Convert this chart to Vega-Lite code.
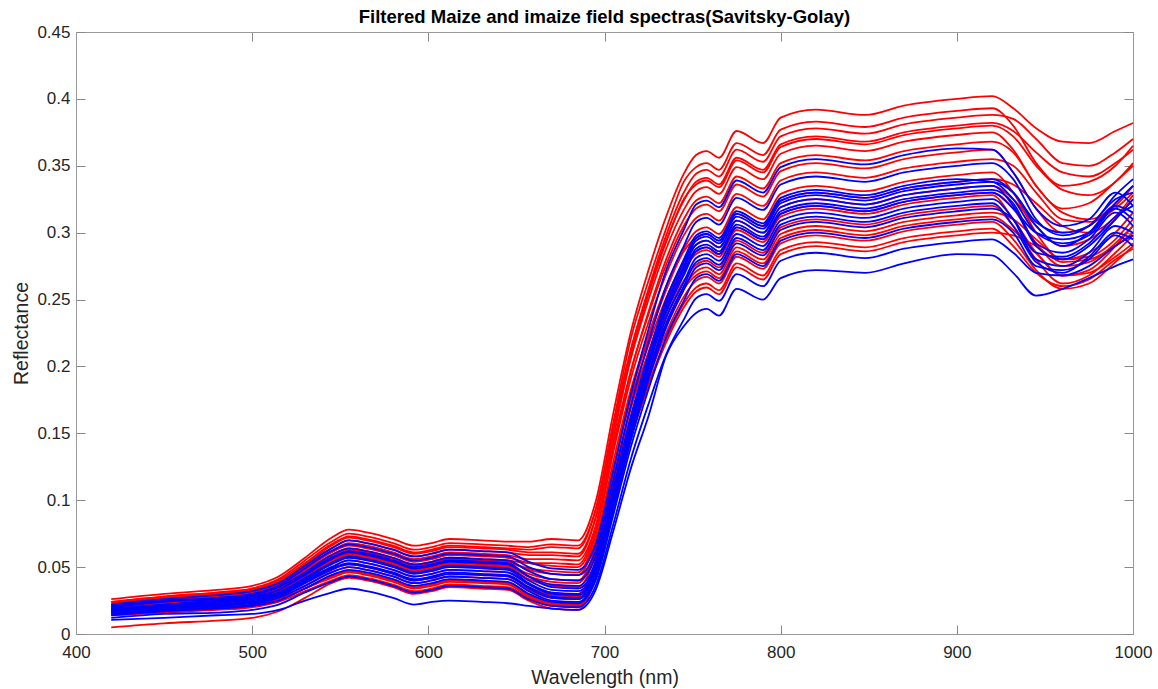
{
"$schema":"https://vega.github.io/schema/vega-lite/v6.json",
"width":1057,"height":602,
"autosize":{"type":"none"},
"padding":{"left":76,"top":32,"right":25,"bottom":55},
"background":"white",
"title":{"text":"Filtered Maize and imaize field spectras(Savitsky-Golay)","font":"Liberation Sans","fontSize":18.5,"fontWeight":"bold","color":"#000000","anchor":"middle","offset":-3},
"config":{"view":{"stroke":null},"axis":{"grid":false,"labelFlush":false,"domainColor":"#999999","tickColor":"#888888","tickSize":-9,"labelColor":"#262626","labelFont":"Liberation Sans","labelFontSize":17,"titleFont":"Liberation Sans","titleFontSize":19.5,"titleFontWeight":"normal","titleColor":"#262626"}},
"datasets":{
"red":[
{"s":"r1","w":420,"v":0.026},{"s":"r1","w":450,"v":0.030},{"s":"r1","w":480,"v":0.033},{"s":"r1","w":500,"v":0.036},{"s":"r1","w":515,"v":0.043},{"s":"r1","w":530,"v":0.057},{"s":"r1","w":545,"v":0.072},{"s":"r1","w":555,"v":0.078},{"s":"r1","w":565,"v":0.076},{"s":"r1","w":580,"v":0.071},{"s":"r1","w":592,"v":0.066},{"s":"r1","w":602,"v":0.068},{"s":"r1","w":612,"v":0.071},{"s":"r1","w":630,"v":0.070},{"s":"r1","w":645,"v":0.069},{"s":"r1","w":657,"v":0.069},{"s":"r1","w":670,"v":0.071},{"s":"r1","w":685,"v":0.070},{"s":"r1","w":695,"v":0.099},{"s":"r1","w":705,"v":0.165},{"s":"r1","w":715,"v":0.226},{"s":"r1","w":725,"v":0.272},{"s":"r1","w":735,"v":0.312},{"s":"r1","w":745,"v":0.344},{"s":"r1","w":752,"v":0.358},{"s":"r1","w":758,"v":0.361},{"s":"r1","w":765,"v":0.356},{"s":"r1","w":775,"v":0.376},{"s":"r1","w":790,"v":0.367},{"s":"r1","w":800,"v":0.386},{"s":"r1","w":820,"v":0.392},{"s":"r1","w":848,"v":0.388},{"s":"r1","w":870,"v":0.395},{"s":"r1","w":900,"v":0.400},{"s":"r1","w":920,"v":0.402},{"s":"r1","w":932,"v":0.393},{"s":"r1","w":945,"v":0.378},{"s":"r1","w":960,"v":0.368},{"s":"r1","w":975,"v":0.367},{"s":"r1","w":990,"v":0.376},{"s":"r1","w":1000,"v":0.382},
{"s":"r2","w":420,"v":0.024},{"s":"r2","w":450,"v":0.028},{"s":"r2","w":480,"v":0.031},{"s":"r2","w":500,"v":0.034},{"s":"r2","w":515,"v":0.041},{"s":"r2","w":530,"v":0.055},{"s":"r2","w":545,"v":0.069},{"s":"r2","w":555,"v":0.075},{"s":"r2","w":565,"v":0.073},{"s":"r2","w":580,"v":0.068},{"s":"r2","w":592,"v":0.063},{"s":"r2","w":602,"v":0.065},{"s":"r2","w":612,"v":0.068},{"s":"r2","w":630,"v":0.067},{"s":"r2","w":645,"v":0.066},{"s":"r2","w":657,"v":0.065},{"s":"r2","w":670,"v":0.067},{"s":"r2","w":685,"v":0.066},{"s":"r2","w":695,"v":0.093},{"s":"r2","w":705,"v":0.156},{"s":"r2","w":715,"v":0.213},{"s":"r2","w":725,"v":0.256},{"s":"r2","w":735,"v":0.294},{"s":"r2","w":745,"v":0.324},{"s":"r2","w":752,"v":0.338},{"s":"r2","w":758,"v":0.341},{"s":"r2","w":765,"v":0.336},{"s":"r2","w":775,"v":0.356},{"s":"r2","w":790,"v":0.347},{"s":"r2","w":800,"v":0.366},{"s":"r2","w":820,"v":0.372},{"s":"r2","w":848,"v":0.368},{"s":"r2","w":870,"v":0.375},{"s":"r2","w":900,"v":0.380},{"s":"r2","w":920,"v":0.382},{"s":"r2","w":932,"v":0.376},{"s":"r2","w":945,"v":0.360},{"s":"r2","w":960,"v":0.345},{"s":"r2","w":975,"v":0.342},{"s":"r2","w":990,"v":0.352},{"s":"r2","w":1000,"v":0.362},
{"s":"r16","w":420,"v":0.024},{"s":"r16","w":450,"v":0.028},{"s":"r16","w":480,"v":0.031},{"s":"r16","w":500,"v":0.034},{"s":"r16","w":515,"v":0.040},{"s":"r16","w":530,"v":0.053},{"s":"r16","w":545,"v":0.067},{"s":"r16","w":555,"v":0.073},{"s":"r16","w":565,"v":0.071},{"s":"r16","w":580,"v":0.066},{"s":"r16","w":592,"v":0.061},{"s":"r16","w":602,"v":0.063},{"s":"r16","w":612,"v":0.066},{"s":"r16","w":630,"v":0.065},{"s":"r16","w":645,"v":0.064},{"s":"r16","w":657,"v":0.063},{"s":"r16","w":670,"v":0.065},{"s":"r16","w":685,"v":0.064},{"s":"r16","w":695,"v":0.093},{"s":"r16","w":705,"v":0.158},{"s":"r16","w":715,"v":0.221},{"s":"r16","w":725,"v":0.264},{"s":"r16","w":735,"v":0.303},{"s":"r16","w":745,"v":0.338},{"s":"r16","w":752,"v":0.349},{"s":"r16","w":758,"v":0.352},{"s":"r16","w":765,"v":0.347},{"s":"r16","w":775,"v":0.367},{"s":"r16","w":790,"v":0.358},{"s":"r16","w":800,"v":0.377},{"s":"r16","w":820,"v":0.383},{"s":"r16","w":848,"v":0.379},{"s":"r16","w":870,"v":0.386},{"s":"r16","w":900,"v":0.391},{"s":"r16","w":920,"v":0.393},{"s":"r16","w":932,"v":0.380},{"s":"r16","w":945,"v":0.352},{"s":"r16","w":960,"v":0.335},{"s":"r16","w":975,"v":0.338},{"s":"r16","w":990,"v":0.350},{"s":"r16","w":1000,"v":0.365},
{"s":"r14","w":420,"v":0.022},{"s":"r14","w":450,"v":0.026},{"s":"r14","w":480,"v":0.029},{"s":"r14","w":500,"v":0.032},{"s":"r14","w":515,"v":0.038},{"s":"r14","w":530,"v":0.051},{"s":"r14","w":545,"v":0.064},{"s":"r14","w":555,"v":0.070},{"s":"r14","w":565,"v":0.068},{"s":"r14","w":580,"v":0.063},{"s":"r14","w":592,"v":0.058},{"s":"r14","w":602,"v":0.060},{"s":"r14","w":612,"v":0.063},{"s":"r14","w":630,"v":0.062},{"s":"r14","w":645,"v":0.061},{"s":"r14","w":657,"v":0.059},{"s":"r14","w":670,"v":0.059},{"s":"r14","w":685,"v":0.058},{"s":"r14","w":695,"v":0.087},{"s":"r14","w":705,"v":0.152},{"s":"r14","w":715,"v":0.212},{"s":"r14","w":725,"v":0.258},{"s":"r14","w":735,"v":0.298},{"s":"r14","w":745,"v":0.330},{"s":"r14","w":752,"v":0.344},{"s":"r14","w":758,"v":0.347},{"s":"r14","w":765,"v":0.342},{"s":"r14","w":775,"v":0.362},{"s":"r14","w":790,"v":0.353},{"s":"r14","w":800,"v":0.372},{"s":"r14","w":820,"v":0.378},{"s":"r14","w":848,"v":0.374},{"s":"r14","w":870,"v":0.381},{"s":"r14","w":900,"v":0.386},{"s":"r14","w":920,"v":0.388},{"s":"r14","w":932,"v":0.385},{"s":"r14","w":945,"v":0.370},{"s":"r14","w":960,"v":0.352},{"s":"r14","w":975,"v":0.350},{"s":"r14","w":990,"v":0.360},{"s":"r14","w":1000,"v":0.370},
{"s":"r17","w":420,"v":0.021},{"s":"r17","w":450,"v":0.024},{"s":"r17","w":480,"v":0.027},{"s":"r17","w":500,"v":0.030},{"s":"r17","w":515,"v":0.035},{"s":"r17","w":530,"v":0.047},{"s":"r17","w":545,"v":0.059},{"s":"r17","w":555,"v":0.064},{"s":"r17","w":565,"v":0.062},{"s":"r17","w":580,"v":0.057},{"s":"r17","w":592,"v":0.052},{"s":"r17","w":602,"v":0.054},{"s":"r17","w":612,"v":0.057},{"s":"r17","w":630,"v":0.056},{"s":"r17","w":645,"v":0.055},{"s":"r17","w":657,"v":0.053},{"s":"r17","w":670,"v":0.053},{"s":"r17","w":685,"v":0.052},{"s":"r17","w":695,"v":0.080},{"s":"r17","w":705,"v":0.146},{"s":"r17","w":715,"v":0.208},{"s":"r17","w":725,"v":0.254},{"s":"r17","w":735,"v":0.293},{"s":"r17","w":745,"v":0.325},{"s":"r17","w":752,"v":0.336},{"s":"r17","w":758,"v":0.339},{"s":"r17","w":765,"v":0.334},{"s":"r17","w":775,"v":0.354},{"s":"r17","w":790,"v":0.345},{"s":"r17","w":800,"v":0.364},{"s":"r17","w":820,"v":0.370},{"s":"r17","w":848,"v":0.366},{"s":"r17","w":870,"v":0.373},{"s":"r17","w":900,"v":0.378},{"s":"r17","w":920,"v":0.380},{"s":"r17","w":932,"v":0.372},{"s":"r17","w":945,"v":0.350},{"s":"r17","w":960,"v":0.332},{"s":"r17","w":975,"v":0.328},{"s":"r17","w":990,"v":0.338},{"s":"r17","w":1000,"v":0.352},
{"s":"r3","w":420,"v":0.023},{"s":"r3","w":450,"v":0.027},{"s":"r3","w":480,"v":0.030},{"s":"r3","w":500,"v":0.033},{"s":"r3","w":515,"v":0.039},{"s":"r3","w":530,"v":0.052},{"s":"r3","w":545,"v":0.066},{"s":"r3","w":555,"v":0.072},{"s":"r3","w":565,"v":0.070},{"s":"r3","w":580,"v":0.065},{"s":"r3","w":592,"v":0.060},{"s":"r3","w":602,"v":0.062},{"s":"r3","w":612,"v":0.065},{"s":"r3","w":630,"v":0.064},{"s":"r3","w":645,"v":0.063},{"s":"r3","w":657,"v":0.061},{"s":"r3","w":670,"v":0.061},{"s":"r3","w":685,"v":0.060},{"s":"r3","w":695,"v":0.087},{"s":"r3","w":705,"v":0.149},{"s":"r3","w":715,"v":0.206},{"s":"r3","w":725,"v":0.250},{"s":"r3","w":735,"v":0.288},{"s":"r3","w":745,"v":0.317},{"s":"r3","w":752,"v":0.331},{"s":"r3","w":758,"v":0.334},{"s":"r3","w":765,"v":0.329},{"s":"r3","w":775,"v":0.349},{"s":"r3","w":790,"v":0.340},{"s":"r3","w":800,"v":0.359},{"s":"r3","w":820,"v":0.365},{"s":"r3","w":848,"v":0.361},{"s":"r3","w":870,"v":0.368},{"s":"r3","w":900,"v":0.373},{"s":"r3","w":920,"v":0.375},{"s":"r3","w":932,"v":0.362},{"s":"r3","w":945,"v":0.335},{"s":"r3","w":960,"v":0.318},{"s":"r3","w":975,"v":0.322},{"s":"r3","w":990,"v":0.338},{"s":"r3","w":1000,"v":0.350},
{"s":"r15","w":420,"v":0.020},{"s":"r15","w":450,"v":0.023},{"s":"r15","w":480,"v":0.026},{"s":"r15","w":500,"v":0.028},{"s":"r15","w":515,"v":0.034},{"s":"r15","w":530,"v":0.045},{"s":"r15","w":545,"v":0.057},{"s":"r15","w":555,"v":0.062},{"s":"r15","w":565,"v":0.060},{"s":"r15","w":580,"v":0.055},{"s":"r15","w":592,"v":0.050},{"s":"r15","w":602,"v":0.052},{"s":"r15","w":612,"v":0.055},{"s":"r15","w":630,"v":0.054},{"s":"r15","w":645,"v":0.053},{"s":"r15","w":657,"v":0.049},{"s":"r15","w":670,"v":0.047},{"s":"r15","w":685,"v":0.046},{"s":"r15","w":695,"v":0.074},{"s":"r15","w":705,"v":0.138},{"s":"r15","w":715,"v":0.196},{"s":"r15","w":725,"v":0.241},{"s":"r15","w":735,"v":0.280},{"s":"r15","w":745,"v":0.310},{"s":"r15","w":752,"v":0.324},{"s":"r15","w":758,"v":0.327},{"s":"r15","w":765,"v":0.322},{"s":"r15","w":775,"v":0.342},{"s":"r15","w":790,"v":0.333},{"s":"r15","w":800,"v":0.352},{"s":"r15","w":820,"v":0.358},{"s":"r15","w":848,"v":0.354},{"s":"r15","w":870,"v":0.361},{"s":"r15","w":900,"v":0.366},{"s":"r15","w":920,"v":0.368},{"s":"r15","w":932,"v":0.360},{"s":"r15","w":945,"v":0.335},{"s":"r15","w":960,"v":0.315},{"s":"r15","w":975,"v":0.310},{"s":"r15","w":990,"v":0.320},{"s":"r15","w":1000,"v":0.335},
{"s":"r4","w":420,"v":0.022},{"s":"r4","w":450,"v":0.026},{"s":"r4","w":480,"v":0.028},{"s":"r4","w":500,"v":0.031},{"s":"r4","w":515,"v":0.037},{"s":"r4","w":530,"v":0.050},{"s":"r4","w":545,"v":0.062},{"s":"r4","w":555,"v":0.068},{"s":"r4","w":565,"v":0.066},{"s":"r4","w":580,"v":0.061},{"s":"r4","w":592,"v":0.056},{"s":"r4","w":602,"v":0.058},{"s":"r4","w":612,"v":0.061},{"s":"r4","w":630,"v":0.060},{"s":"r4","w":645,"v":0.059},{"s":"r4","w":657,"v":0.056},{"s":"r4","w":670,"v":0.056},{"s":"r4","w":685,"v":0.055},{"s":"r4","w":695,"v":0.081},{"s":"r4","w":705,"v":0.142},{"s":"r4","w":715,"v":0.197},{"s":"r4","w":725,"v":0.239},{"s":"r4","w":735,"v":0.276},{"s":"r4","w":745,"v":0.305},{"s":"r4","w":752,"v":0.318},{"s":"r4","w":758,"v":0.321},{"s":"r4","w":765,"v":0.316},{"s":"r4","w":775,"v":0.336},{"s":"r4","w":790,"v":0.327},{"s":"r4","w":800,"v":0.346},{"s":"r4","w":820,"v":0.352},{"s":"r4","w":848,"v":0.348},{"s":"r4","w":870,"v":0.355},{"s":"r4","w":900,"v":0.360},{"s":"r4","w":920,"v":0.362},{"s":"r4","w":932,"v":0.345},{"s":"r4","w":945,"v":0.318},{"s":"r4","w":960,"v":0.300},{"s":"r4","w":975,"v":0.305},{"s":"r4","w":990,"v":0.322},{"s":"r4","w":1000,"v":0.335},
{"s":"r5","w":420,"v":0.021},{"s":"r5","w":450,"v":0.025},{"s":"r5","w":480,"v":0.027},{"s":"r5","w":500,"v":0.030},{"s":"r5","w":515,"v":0.036},{"s":"r5","w":530,"v":0.048},{"s":"r5","w":545,"v":0.061},{"s":"r5","w":555,"v":0.066},{"s":"r5","w":565,"v":0.064},{"s":"r5","w":580,"v":0.059},{"s":"r5","w":592,"v":0.054},{"s":"r5","w":602,"v":0.056},{"s":"r5","w":612,"v":0.059},{"s":"r5","w":630,"v":0.058},{"s":"r5","w":645,"v":0.057},{"s":"r5","w":657,"v":0.053},{"s":"r5","w":670,"v":0.051},{"s":"r5","w":685,"v":0.050},{"s":"r5","w":695,"v":0.076},{"s":"r5","w":705,"v":0.136},{"s":"r5","w":715,"v":0.191},{"s":"r5","w":725,"v":0.233},{"s":"r5","w":735,"v":0.269},{"s":"r5","w":745,"v":0.298},{"s":"r5","w":752,"v":0.311},{"s":"r5","w":758,"v":0.314},{"s":"r5","w":765,"v":0.309},{"s":"r5","w":775,"v":0.329},{"s":"r5","w":790,"v":0.320},{"s":"r5","w":800,"v":0.339},{"s":"r5","w":820,"v":0.345},{"s":"r5","w":848,"v":0.341},{"s":"r5","w":870,"v":0.348},{"s":"r5","w":900,"v":0.353},{"s":"r5","w":920,"v":0.355},{"s":"r5","w":932,"v":0.350},{"s":"r5","w":945,"v":0.330},{"s":"r5","w":960,"v":0.310},{"s":"r5","w":975,"v":0.308},{"s":"r5","w":990,"v":0.318},{"s":"r5","w":1000,"v":0.330},
{"s":"r6","w":420,"v":0.020},{"s":"r6","w":450,"v":0.023},{"s":"r6","w":480,"v":0.026},{"s":"r6","w":500,"v":0.029},{"s":"r6","w":515,"v":0.034},{"s":"r6","w":530,"v":0.046},{"s":"r6","w":545,"v":0.058},{"s":"r6","w":555,"v":0.063},{"s":"r6","w":565,"v":0.061},{"s":"r6","w":580,"v":0.056},{"s":"r6","w":592,"v":0.051},{"s":"r6","w":602,"v":0.053},{"s":"r6","w":612,"v":0.056},{"s":"r6","w":630,"v":0.055},{"s":"r6","w":645,"v":0.054},{"s":"r6","w":657,"v":0.048},{"s":"r6","w":670,"v":0.045},{"s":"r6","w":685,"v":0.044},{"s":"r6","w":695,"v":0.070},{"s":"r6","w":705,"v":0.129},{"s":"r6","w":715,"v":0.183},{"s":"r6","w":725,"v":0.224},{"s":"r6","w":735,"v":0.260},{"s":"r6","w":745,"v":0.288},{"s":"r6","w":752,"v":0.301},{"s":"r6","w":758,"v":0.304},{"s":"r6","w":765,"v":0.299},{"s":"r6","w":775,"v":0.319},{"s":"r6","w":790,"v":0.310},{"s":"r6","w":800,"v":0.329},{"s":"r6","w":820,"v":0.335},{"s":"r6","w":848,"v":0.331},{"s":"r6","w":870,"v":0.338},{"s":"r6","w":900,"v":0.343},{"s":"r6","w":920,"v":0.345},{"s":"r6","w":932,"v":0.330},{"s":"r6","w":945,"v":0.300},{"s":"r6","w":960,"v":0.280},{"s":"r6","w":975,"v":0.285},{"s":"r6","w":990,"v":0.300},{"s":"r6","w":1000,"v":0.315},
{"s":"r18","w":420,"v":0.019},{"s":"r18","w":450,"v":0.022},{"s":"r18","w":480,"v":0.025},{"s":"r18","w":500,"v":0.027},{"s":"r18","w":515,"v":0.032},{"s":"r18","w":530,"v":0.043},{"s":"r18","w":545,"v":0.054},{"s":"r18","w":555,"v":0.059},{"s":"r18","w":565,"v":0.057},{"s":"r18","w":580,"v":0.052},{"s":"r18","w":592,"v":0.047},{"s":"r18","w":602,"v":0.049},{"s":"r18","w":612,"v":0.052},{"s":"r18","w":630,"v":0.051},{"s":"r18","w":645,"v":0.050},{"s":"r18","w":657,"v":0.043},{"s":"r18","w":670,"v":0.039},{"s":"r18","w":685,"v":0.038},{"s":"r18","w":695,"v":0.064},{"s":"r18","w":705,"v":0.123},{"s":"r18","w":715,"v":0.180},{"s":"r18","w":725,"v":0.221},{"s":"r18","w":735,"v":0.257},{"s":"r18","w":745,"v":0.286},{"s":"r18","w":752,"v":0.296},{"s":"r18","w":758,"v":0.299},{"s":"r18","w":765,"v":0.294},{"s":"r18","w":775,"v":0.314},{"s":"r18","w":790,"v":0.305},{"s":"r18","w":800,"v":0.324},{"s":"r18","w":820,"v":0.330},{"s":"r18","w":848,"v":0.326},{"s":"r18","w":870,"v":0.333},{"s":"r18","w":900,"v":0.338},{"s":"r18","w":920,"v":0.340},{"s":"r18","w":932,"v":0.336},{"s":"r18","w":945,"v":0.322},{"s":"r18","w":960,"v":0.305},{"s":"r18","w":975,"v":0.300},{"s":"r18","w":990,"v":0.312},{"s":"r18","w":1000,"v":0.328},
{"s":"r7","w":420,"v":0.019},{"s":"r7","w":450,"v":0.022},{"s":"r7","w":480,"v":0.025},{"s":"r7","w":500,"v":0.027},{"s":"r7","w":515,"v":0.033},{"s":"r7","w":530,"v":0.044},{"s":"r7","w":545,"v":0.055},{"s":"r7","w":555,"v":0.060},{"s":"r7","w":565,"v":0.058},{"s":"r7","w":580,"v":0.053},{"s":"r7","w":592,"v":0.048},{"s":"r7","w":602,"v":0.050},{"s":"r7","w":612,"v":0.053},{"s":"r7","w":630,"v":0.052},{"s":"r7","w":645,"v":0.051},{"s":"r7","w":657,"v":0.045},{"s":"r7","w":670,"v":0.041},{"s":"r7","w":685,"v":0.040},{"s":"r7","w":695,"v":0.065},{"s":"r7","w":705,"v":0.123},{"s":"r7","w":715,"v":0.176},{"s":"r7","w":725,"v":0.216},{"s":"r7","w":735,"v":0.251},{"s":"r7","w":745,"v":0.278},{"s":"r7","w":752,"v":0.291},{"s":"r7","w":758,"v":0.294},{"s":"r7","w":765,"v":0.289},{"s":"r7","w":775,"v":0.309},{"s":"r7","w":790,"v":0.300},{"s":"r7","w":800,"v":0.319},{"s":"r7","w":820,"v":0.325},{"s":"r7","w":848,"v":0.321},{"s":"r7","w":870,"v":0.328},{"s":"r7","w":900,"v":0.333},{"s":"r7","w":920,"v":0.335},{"s":"r7","w":932,"v":0.325},{"s":"r7","w":945,"v":0.305},{"s":"r7","w":960,"v":0.290},{"s":"r7","w":975,"v":0.295},{"s":"r7","w":990,"v":0.310},{"s":"r7","w":1000,"v":0.325},
{"s":"r19","w":420,"v":0.017},{"s":"r19","w":450,"v":0.020},{"s":"r19","w":480,"v":0.022},{"s":"r19","w":500,"v":0.024},{"s":"r19","w":515,"v":0.029},{"s":"r19","w":530,"v":0.038},{"s":"r19","w":545,"v":0.048},{"s":"r19","w":555,"v":0.052},{"s":"r19","w":565,"v":0.050},{"s":"r19","w":580,"v":0.045},{"s":"r19","w":592,"v":0.040},{"s":"r19","w":602,"v":0.042},{"s":"r19","w":612,"v":0.045},{"s":"r19","w":630,"v":0.044},{"s":"r19","w":645,"v":0.043},{"s":"r19","w":657,"v":0.035},{"s":"r19","w":670,"v":0.029},{"s":"r19","w":685,"v":0.028},{"s":"r19","w":695,"v":0.054},{"s":"r19","w":705,"v":0.113},{"s":"r19","w":715,"v":0.170},{"s":"r19","w":725,"v":0.211},{"s":"r19","w":735,"v":0.247},{"s":"r19","w":745,"v":0.276},{"s":"r19","w":752,"v":0.286},{"s":"r19","w":758,"v":0.289},{"s":"r19","w":765,"v":0.284},{"s":"r19","w":775,"v":0.304},{"s":"r19","w":790,"v":0.295},{"s":"r19","w":800,"v":0.314},{"s":"r19","w":820,"v":0.320},{"s":"r19","w":848,"v":0.316},{"s":"r19","w":870,"v":0.323},{"s":"r19","w":900,"v":0.328},{"s":"r19","w":920,"v":0.330},{"s":"r19","w":932,"v":0.318},{"s":"r19","w":945,"v":0.292},{"s":"r19","w":960,"v":0.275},{"s":"r19","w":975,"v":0.278},{"s":"r19","w":990,"v":0.292},{"s":"r19","w":1000,"v":0.305},
{"s":"r8","w":420,"v":0.018},{"s":"r8","w":450,"v":0.021},{"s":"r8","w":480,"v":0.024},{"s":"r8","w":500,"v":0.026},{"s":"r8","w":515,"v":0.031},{"s":"r8","w":530,"v":0.042},{"s":"r8","w":545,"v":0.053},{"s":"r8","w":555,"v":0.058},{"s":"r8","w":565,"v":0.056},{"s":"r8","w":580,"v":0.051},{"s":"r8","w":592,"v":0.046},{"s":"r8","w":602,"v":0.048},{"s":"r8","w":612,"v":0.051},{"s":"r8","w":630,"v":0.050},{"s":"r8","w":645,"v":0.049},{"s":"r8","w":657,"v":0.041},{"s":"r8","w":670,"v":0.036},{"s":"r8","w":685,"v":0.035},{"s":"r8","w":695,"v":0.060},{"s":"r8","w":705,"v":0.117},{"s":"r8","w":715,"v":0.169},{"s":"r8","w":725,"v":0.209},{"s":"r8","w":735,"v":0.244},{"s":"r8","w":745,"v":0.272},{"s":"r8","w":752,"v":0.284},{"s":"r8","w":758,"v":0.287},{"s":"r8","w":765,"v":0.282},{"s":"r8","w":775,"v":0.302},{"s":"r8","w":790,"v":0.293},{"s":"r8","w":800,"v":0.312},{"s":"r8","w":820,"v":0.318},{"s":"r8","w":848,"v":0.314},{"s":"r8","w":870,"v":0.321},{"s":"r8","w":900,"v":0.326},{"s":"r8","w":920,"v":0.328},{"s":"r8","w":932,"v":0.310},{"s":"r8","w":945,"v":0.285},{"s":"r8","w":960,"v":0.268},{"s":"r8","w":975,"v":0.272},{"s":"r8","w":990,"v":0.290},{"s":"r8","w":1000,"v":0.305},
{"s":"r9","w":420,"v":0.017},{"s":"r9","w":450,"v":0.020},{"s":"r9","w":480,"v":0.022},{"s":"r9","w":500,"v":0.025},{"s":"r9","w":515,"v":0.030},{"s":"r9","w":530,"v":0.040},{"s":"r9","w":545,"v":0.050},{"s":"r9","w":555,"v":0.055},{"s":"r9","w":565,"v":0.053},{"s":"r9","w":580,"v":0.048},{"s":"r9","w":592,"v":0.043},{"s":"r9","w":602,"v":0.045},{"s":"r9","w":612,"v":0.048},{"s":"r9","w":630,"v":0.047},{"s":"r9","w":645,"v":0.046},{"s":"r9","w":657,"v":0.037},{"s":"r9","w":670,"v":0.031},{"s":"r9","w":685,"v":0.030},{"s":"r9","w":695,"v":0.055},{"s":"r9","w":705,"v":0.111},{"s":"r9","w":715,"v":0.163},{"s":"r9","w":725,"v":0.202},{"s":"r9","w":735,"v":0.237},{"s":"r9","w":745,"v":0.264},{"s":"r9","w":752,"v":0.276},{"s":"r9","w":758,"v":0.279},{"s":"r9","w":765,"v":0.274},{"s":"r9","w":775,"v":0.294},{"s":"r9","w":790,"v":0.285},{"s":"r9","w":800,"v":0.304},{"s":"r9","w":820,"v":0.310},{"s":"r9","w":848,"v":0.306},{"s":"r9","w":870,"v":0.313},{"s":"r9","w":900,"v":0.318},{"s":"r9","w":920,"v":0.320},{"s":"r9","w":932,"v":0.305},{"s":"r9","w":945,"v":0.280},{"s":"r9","w":960,"v":0.262},{"s":"r9","w":975,"v":0.268},{"s":"r9","w":990,"v":0.285},{"s":"r9","w":1000,"v":0.298},
{"s":"r10","w":420,"v":0.016},{"s":"r10","w":450,"v":0.019},{"s":"r10","w":480,"v":0.021},{"s":"r10","w":500,"v":0.023},{"s":"r10","w":515,"v":0.027},{"s":"r10","w":530,"v":0.036},{"s":"r10","w":545,"v":0.046},{"s":"r10","w":555,"v":0.050},{"s":"r10","w":565,"v":0.048},{"s":"r10","w":580,"v":0.043},{"s":"r10","w":592,"v":0.038},{"s":"r10","w":602,"v":0.040},{"s":"r10","w":612,"v":0.043},{"s":"r10","w":630,"v":0.042},{"s":"r10","w":645,"v":0.041},{"s":"r10","w":657,"v":0.033},{"s":"r10","w":670,"v":0.027},{"s":"r10","w":685,"v":0.026},{"s":"r10","w":695,"v":0.051},{"s":"r10","w":705,"v":0.107},{"s":"r10","w":715,"v":0.158},{"s":"r10","w":725,"v":0.198},{"s":"r10","w":735,"v":0.232},{"s":"r10","w":745,"v":0.259},{"s":"r10","w":752,"v":0.271},{"s":"r10","w":758,"v":0.274},{"s":"r10","w":765,"v":0.269},{"s":"r10","w":775,"v":0.289},{"s":"r10","w":790,"v":0.280},{"s":"r10","w":800,"v":0.299},{"s":"r10","w":820,"v":0.305},{"s":"r10","w":848,"v":0.301},{"s":"r10","w":870,"v":0.308},{"s":"r10","w":900,"v":0.313},{"s":"r10","w":920,"v":0.315},{"s":"r10","w":932,"v":0.310},{"s":"r10","w":945,"v":0.295},{"s":"r10","w":960,"v":0.280},{"s":"r10","w":975,"v":0.282},{"s":"r10","w":990,"v":0.295},{"s":"r10","w":1000,"v":0.310},
{"s":"r20","w":420,"v":0.015},{"s":"r20","w":450,"v":0.017},{"s":"r20","w":480,"v":0.019},{"s":"r20","w":500,"v":0.021},{"s":"r20","w":515,"v":0.025},{"s":"r20","w":530,"v":0.034},{"s":"r20","w":545,"v":0.042},{"s":"r20","w":555,"v":0.046},{"s":"r20","w":565,"v":0.044},{"s":"r20","w":580,"v":0.039},{"s":"r20","w":592,"v":0.034},{"s":"r20","w":602,"v":0.036},{"s":"r20","w":612,"v":0.039},{"s":"r20","w":630,"v":0.038},{"s":"r20","w":645,"v":0.037},{"s":"r20","w":657,"v":0.028},{"s":"r20","w":670,"v":0.022},{"s":"r20","w":685,"v":0.021},{"s":"r20","w":695,"v":0.046},{"s":"r20","w":705,"v":0.103},{"s":"r20","w":715,"v":0.157},{"s":"r20","w":725,"v":0.196},{"s":"r20","w":735,"v":0.231},{"s":"r20","w":745,"v":0.258},{"s":"r20","w":752,"v":0.268},{"s":"r20","w":758,"v":0.271},{"s":"r20","w":765,"v":0.266},{"s":"r20","w":775,"v":0.286},{"s":"r20","w":790,"v":0.277},{"s":"r20","w":800,"v":0.296},{"s":"r20","w":820,"v":0.302},{"s":"r20","w":848,"v":0.298},{"s":"r20","w":870,"v":0.305},{"s":"r20","w":900,"v":0.310},{"s":"r20","w":920,"v":0.312},{"s":"r20","w":932,"v":0.302},{"s":"r20","w":945,"v":0.285},{"s":"r20","w":960,"v":0.268},{"s":"r20","w":975,"v":0.270},{"s":"r20","w":990,"v":0.282},{"s":"r20","w":1000,"v":0.292},
{"s":"r11","w":420,"v":0.015},{"s":"r11","w":450,"v":0.018},{"s":"r11","w":480,"v":0.020},{"s":"r11","w":500,"v":0.021},{"s":"r11","w":515,"v":0.026},{"s":"r11","w":530,"v":0.034},{"s":"r11","w":545,"v":0.043},{"s":"r11","w":555,"v":0.047},{"s":"r11","w":565,"v":0.045},{"s":"r11","w":580,"v":0.040},{"s":"r11","w":592,"v":0.035},{"s":"r11","w":602,"v":0.037},{"s":"r11","w":612,"v":0.040},{"s":"r11","w":630,"v":0.039},{"s":"r11","w":645,"v":0.038},{"s":"r11","w":657,"v":0.029},{"s":"r11","w":670,"v":0.023},{"s":"r11","w":685,"v":0.022},{"s":"r11","w":695,"v":0.046},{"s":"r11","w":705,"v":0.102},{"s":"r11","w":715,"v":0.153},{"s":"r11","w":725,"v":0.191},{"s":"r11","w":735,"v":0.225},{"s":"r11","w":745,"v":0.252},{"s":"r11","w":752,"v":0.264},{"s":"r11","w":758,"v":0.267},{"s":"r11","w":765,"v":0.262},{"s":"r11","w":775,"v":0.282},{"s":"r11","w":790,"v":0.273},{"s":"r11","w":800,"v":0.292},{"s":"r11","w":820,"v":0.298},{"s":"r11","w":848,"v":0.294},{"s":"r11","w":870,"v":0.301},{"s":"r11","w":900,"v":0.306},{"s":"r11","w":920,"v":0.308},{"s":"r11","w":932,"v":0.295},{"s":"r11","w":945,"v":0.272},{"s":"r11","w":960,"v":0.258},{"s":"r11","w":975,"v":0.262},{"s":"r11","w":990,"v":0.278},{"s":"r11","w":1000,"v":0.290},
{"s":"r12","w":420,"v":0.014},{"s":"r12","w":450,"v":0.016},{"s":"r12","w":480,"v":0.018},{"s":"r12","w":500,"v":0.020},{"s":"r12","w":515,"v":0.024},{"s":"r12","w":530,"v":0.032},{"s":"r12","w":545,"v":0.040},{"s":"r12","w":555,"v":0.044},{"s":"r12","w":565,"v":0.042},{"s":"r12","w":580,"v":0.037},{"s":"r12","w":592,"v":0.032},{"s":"r12","w":602,"v":0.034},{"s":"r12","w":612,"v":0.037},{"s":"r12","w":630,"v":0.036},{"s":"r12","w":645,"v":0.035},{"s":"r12","w":657,"v":0.027},{"s":"r12","w":670,"v":0.021},{"s":"r12","w":685,"v":0.020},{"s":"r12","w":695,"v":0.044},{"s":"r12","w":705,"v":0.098},{"s":"r12","w":715,"v":0.147},{"s":"r12","w":725,"v":0.185},{"s":"r12","w":735,"v":0.218},{"s":"r12","w":745,"v":0.244},{"s":"r12","w":752,"v":0.256},{"s":"r12","w":758,"v":0.259},{"s":"r12","w":765,"v":0.254},{"s":"r12","w":775,"v":0.274},{"s":"r12","w":790,"v":0.265},{"s":"r12","w":800,"v":0.284},{"s":"r12","w":820,"v":0.290},{"s":"r12","w":848,"v":0.286},{"s":"r12","w":870,"v":0.293},{"s":"r12","w":900,"v":0.298},{"s":"r12","w":920,"v":0.300},{"s":"r12","w":932,"v":0.298},{"s":"r12","w":945,"v":0.290},{"s":"r12","w":960,"v":0.278},{"s":"r12","w":975,"v":0.280},{"s":"r12","w":990,"v":0.290},{"s":"r12","w":1000,"v":0.300},
{"s":"r13","w":420,"v":0.005},{"s":"r13","w":450,"v":0.008},{"s":"r13","w":480,"v":0.010},{"s":"r13","w":500,"v":0.012},{"s":"r13","w":515,"v":0.017},{"s":"r13","w":530,"v":0.027},{"s":"r13","w":545,"v":0.038},{"s":"r13","w":555,"v":0.042},{"s":"r13","w":565,"v":0.040},{"s":"r13","w":580,"v":0.035},{"s":"r13","w":592,"v":0.030},{"s":"r13","w":602,"v":0.032},{"s":"r13","w":612,"v":0.035},{"s":"r13","w":630,"v":0.034},{"s":"r13","w":645,"v":0.033},{"s":"r13","w":657,"v":0.025},{"s":"r13","w":670,"v":0.019},{"s":"r13","w":685,"v":0.018},{"s":"r13","w":695,"v":0.042},{"s":"r13","w":705,"v":0.098},{"s":"r13","w":715,"v":0.148},{"s":"r13","w":725,"v":0.187},{"s":"r13","w":735,"v":0.220},{"s":"r13","w":745,"v":0.247},{"s":"r13","w":752,"v":0.259},{"s":"r13","w":758,"v":0.262},{"s":"r13","w":765,"v":0.257},{"s":"r13","w":775,"v":0.277},{"s":"r13","w":790,"v":0.268},{"s":"r13","w":800,"v":0.287},{"s":"r13","w":820,"v":0.293},{"s":"r13","w":848,"v":0.289},{"s":"r13","w":870,"v":0.296},{"s":"r13","w":900,"v":0.301},{"s":"r13","w":920,"v":0.303},{"s":"r13","w":932,"v":0.290},{"s":"r13","w":945,"v":0.270},{"s":"r13","w":960,"v":0.260},{"s":"r13","w":975,"v":0.265},{"s":"r13","w":990,"v":0.280},{"s":"r13","w":1000,"v":0.288}
],
"blue":[
{"s":"b1","w":420,"v":0.022},{"s":"b1","w":450,"v":0.026},{"s":"b1","w":480,"v":0.029},{"s":"b1","w":500,"v":0.032},{"s":"b1","w":515,"v":0.038},{"s":"b1","w":530,"v":0.051},{"s":"b1","w":545,"v":0.064},{"s":"b1","w":555,"v":0.070},{"s":"b1","w":565,"v":0.068},{"s":"b1","w":580,"v":0.063},{"s":"b1","w":592,"v":0.058},{"s":"b1","w":602,"v":0.060},{"s":"b1","w":612,"v":0.063},{"s":"b1","w":630,"v":0.062},{"s":"b1","w":645,"v":0.061},{"s":"b1","w":657,"v":0.054},{"s":"b1","w":670,"v":0.049},{"s":"b1","w":685,"v":0.048},{"s":"b1","w":695,"v":0.067},{"s":"b1","w":705,"v":0.122},{"s":"b1","w":715,"v":0.179},{"s":"b1","w":725,"v":0.228},{"s":"b1","w":735,"v":0.272},{"s":"b1","w":745,"v":0.302},{"s":"b1","w":752,"v":0.321},{"s":"b1","w":758,"v":0.324},{"s":"b1","w":765,"v":0.319},{"s":"b1","w":775,"v":0.339},{"s":"b1","w":790,"v":0.330},{"s":"b1","w":800,"v":0.349},{"s":"b1","w":820,"v":0.355},{"s":"b1","w":848,"v":0.351},{"s":"b1","w":870,"v":0.358},{"s":"b1","w":900,"v":0.363},{"s":"b1","w":920,"v":0.362},{"s":"b1","w":932,"v":0.345},{"s":"b1","w":945,"v":0.318},{"s":"b1","w":960,"v":0.305},{"s":"b1","w":975,"v":0.310},{"s":"b1","w":990,"v":0.330},{"s":"b1","w":1000,"v":0.320},
{"s":"b2","w":420,"v":0.021},{"s":"b2","w":450,"v":0.025},{"s":"b2","w":480,"v":0.027},{"s":"b2","w":500,"v":0.030},{"s":"b2","w":515,"v":0.036},{"s":"b2","w":530,"v":0.049},{"s":"b2","w":545,"v":0.062},{"s":"b2","w":555,"v":0.067},{"s":"b2","w":565,"v":0.065},{"s":"b2","w":580,"v":0.060},{"s":"b2","w":592,"v":0.055},{"s":"b2","w":602,"v":0.057},{"s":"b2","w":612,"v":0.060},{"s":"b2","w":630,"v":0.059},{"s":"b2","w":645,"v":0.058},{"s":"b2","w":657,"v":0.050},{"s":"b2","w":670,"v":0.045},{"s":"b2","w":685,"v":0.044},{"s":"b2","w":695,"v":0.062},{"s":"b2","w":705,"v":0.115},{"s":"b2","w":715,"v":0.171},{"s":"b2","w":725,"v":0.218},{"s":"b2","w":735,"v":0.260},{"s":"b2","w":745,"v":0.290},{"s":"b2","w":752,"v":0.308},{"s":"b2","w":758,"v":0.311},{"s":"b2","w":765,"v":0.306},{"s":"b2","w":775,"v":0.326},{"s":"b2","w":790,"v":0.317},{"s":"b2","w":800,"v":0.336},{"s":"b2","w":820,"v":0.342},{"s":"b2","w":848,"v":0.338},{"s":"b2","w":870,"v":0.345},{"s":"b2","w":900,"v":0.350},{"s":"b2","w":920,"v":0.352},{"s":"b2","w":932,"v":0.340},{"s":"b2","w":945,"v":0.310},{"s":"b2","w":960,"v":0.298},{"s":"b2","w":975,"v":0.305},{"s":"b2","w":990,"v":0.325},{"s":"b2","w":1000,"v":0.330},
{"s":"b11","w":420,"v":0.019},{"s":"b11","w":450,"v":0.022},{"s":"b11","w":480,"v":0.025},{"s":"b11","w":500,"v":0.028},{"s":"b11","w":515,"v":0.033},{"s":"b11","w":530,"v":0.045},{"s":"b11","w":545,"v":0.057},{"s":"b11","w":555,"v":0.062},{"s":"b11","w":565,"v":0.060},{"s":"b11","w":580,"v":0.055},{"s":"b11","w":592,"v":0.050},{"s":"b11","w":602,"v":0.052},{"s":"b11","w":612,"v":0.055},{"s":"b11","w":630,"v":0.054},{"s":"b11","w":645,"v":0.053},{"s":"b11","w":657,"v":0.043},{"s":"b11","w":670,"v":0.035},{"s":"b11","w":685,"v":0.034},{"s":"b11","w":695,"v":0.052},{"s":"b11","w":705,"v":0.105},{"s":"b11","w":715,"v":0.161},{"s":"b11","w":725,"v":0.208},{"s":"b11","w":735,"v":0.250},{"s":"b11","w":745,"v":0.280},{"s":"b11","w":752,"v":0.298},{"s":"b11","w":758,"v":0.301},{"s":"b11","w":765,"v":0.296},{"s":"b11","w":775,"v":0.316},{"s":"b11","w":790,"v":0.307},{"s":"b11","w":800,"v":0.326},{"s":"b11","w":820,"v":0.332},{"s":"b11","w":848,"v":0.328},{"s":"b11","w":870,"v":0.335},{"s":"b11","w":900,"v":0.340},{"s":"b11","w":920,"v":0.338},{"s":"b11","w":932,"v":0.325},{"s":"b11","w":945,"v":0.300},{"s":"b11","w":960,"v":0.292},{"s":"b11","w":975,"v":0.298},{"s":"b11","w":990,"v":0.322},{"s":"b11","w":1000,"v":0.335},
{"s":"b3","w":420,"v":0.020},{"s":"b3","w":450,"v":0.024},{"s":"b3","w":480,"v":0.026},{"s":"b3","w":500,"v":0.029},{"s":"b3","w":515,"v":0.035},{"s":"b3","w":530,"v":0.046},{"s":"b3","w":545,"v":0.059},{"s":"b3","w":555,"v":0.064},{"s":"b3","w":565,"v":0.062},{"s":"b3","w":580,"v":0.057},{"s":"b3","w":592,"v":0.052},{"s":"b3","w":602,"v":0.054},{"s":"b3","w":612,"v":0.057},{"s":"b3","w":630,"v":0.056},{"s":"b3","w":645,"v":0.055},{"s":"b3","w":657,"v":0.047},{"s":"b3","w":670,"v":0.041},{"s":"b3","w":685,"v":0.040},{"s":"b3","w":695,"v":0.058},{"s":"b3","w":705,"v":0.109},{"s":"b3","w":715,"v":0.163},{"s":"b3","w":725,"v":0.209},{"s":"b3","w":735,"v":0.250},{"s":"b3","w":745,"v":0.278},{"s":"b3","w":752,"v":0.296},{"s":"b3","w":758,"v":0.299},{"s":"b3","w":765,"v":0.294},{"s":"b3","w":775,"v":0.314},{"s":"b3","w":790,"v":0.305},{"s":"b3","w":800,"v":0.324},{"s":"b3","w":820,"v":0.330},{"s":"b3","w":848,"v":0.326},{"s":"b3","w":870,"v":0.333},{"s":"b3","w":900,"v":0.338},{"s":"b3","w":920,"v":0.340},{"s":"b3","w":932,"v":0.330},{"s":"b3","w":945,"v":0.305},{"s":"b3","w":960,"v":0.290},{"s":"b3","w":975,"v":0.300},{"s":"b3","w":990,"v":0.320},{"s":"b3","w":1000,"v":0.315},
{"s":"b13","w":420,"v":0.017},{"s":"b13","w":450,"v":0.020},{"s":"b13","w":480,"v":0.022},{"s":"b13","w":500,"v":0.024},{"s":"b13","w":515,"v":0.029},{"s":"b13","w":530,"v":0.039},{"s":"b13","w":545,"v":0.049},{"s":"b13","w":555,"v":0.053},{"s":"b13","w":565,"v":0.051},{"s":"b13","w":580,"v":0.046},{"s":"b13","w":592,"v":0.041},{"s":"b13","w":602,"v":0.043},{"s":"b13","w":612,"v":0.046},{"s":"b13","w":630,"v":0.045},{"s":"b13","w":645,"v":0.044},{"s":"b13","w":657,"v":0.035},{"s":"b13","w":670,"v":0.028},{"s":"b13","w":685,"v":0.027},{"s":"b13","w":695,"v":0.046},{"s":"b13","w":705,"v":0.099},{"s":"b13","w":715,"v":0.155},{"s":"b13","w":725,"v":0.203},{"s":"b13","w":735,"v":0.246},{"s":"b13","w":745,"v":0.275},{"s":"b13","w":752,"v":0.294},{"s":"b13","w":758,"v":0.297},{"s":"b13","w":765,"v":0.292},{"s":"b13","w":775,"v":0.312},{"s":"b13","w":790,"v":0.303},{"s":"b13","w":800,"v":0.322},{"s":"b13","w":820,"v":0.328},{"s":"b13","w":848,"v":0.324},{"s":"b13","w":870,"v":0.331},{"s":"b13","w":900,"v":0.336},{"s":"b13","w":920,"v":0.338},{"s":"b13","w":932,"v":0.330},{"s":"b13","w":945,"v":0.308},{"s":"b13","w":960,"v":0.300},{"s":"b13","w":975,"v":0.305},{"s":"b13","w":990,"v":0.328},{"s":"b13","w":1000,"v":0.340},
{"s":"b4","w":420,"v":0.019},{"s":"b4","w":450,"v":0.022},{"s":"b4","w":480,"v":0.025},{"s":"b4","w":500,"v":0.027},{"s":"b4","w":515,"v":0.033},{"s":"b4","w":530,"v":0.044},{"s":"b4","w":545,"v":0.056},{"s":"b4","w":555,"v":0.061},{"s":"b4","w":565,"v":0.059},{"s":"b4","w":580,"v":0.054},{"s":"b4","w":592,"v":0.049},{"s":"b4","w":602,"v":0.051},{"s":"b4","w":612,"v":0.054},{"s":"b4","w":630,"v":0.053},{"s":"b4","w":645,"v":0.052},{"s":"b4","w":657,"v":0.043},{"s":"b4","w":670,"v":0.037},{"s":"b4","w":685,"v":0.036},{"s":"b4","w":695,"v":0.054},{"s":"b4","w":705,"v":0.105},{"s":"b4","w":715,"v":0.158},{"s":"b4","w":725,"v":0.204},{"s":"b4","w":735,"v":0.245},{"s":"b4","w":745,"v":0.273},{"s":"b4","w":752,"v":0.291},{"s":"b4","w":758,"v":0.294},{"s":"b4","w":765,"v":0.289},{"s":"b4","w":775,"v":0.309},{"s":"b4","w":790,"v":0.300},{"s":"b4","w":800,"v":0.319},{"s":"b4","w":820,"v":0.325},{"s":"b4","w":848,"v":0.321},{"s":"b4","w":870,"v":0.328},{"s":"b4","w":900,"v":0.333},{"s":"b4","w":920,"v":0.335},{"s":"b4","w":932,"v":0.320},{"s":"b4","w":945,"v":0.290},{"s":"b4","w":960,"v":0.280},{"s":"b4","w":975,"v":0.290},{"s":"b4","w":990,"v":0.310},{"s":"b4","w":1000,"v":0.325},
{"s":"b12","w":420,"v":0.018},{"s":"b12","w":450,"v":0.021},{"s":"b12","w":480,"v":0.023},{"s":"b12","w":500,"v":0.026},{"s":"b12","w":515,"v":0.031},{"s":"b12","w":530,"v":0.041},{"s":"b12","w":545,"v":0.052},{"s":"b12","w":555,"v":0.057},{"s":"b12","w":565,"v":0.055},{"s":"b12","w":580,"v":0.050},{"s":"b12","w":592,"v":0.045},{"s":"b12","w":602,"v":0.047},{"s":"b12","w":612,"v":0.050},{"s":"b12","w":630,"v":0.049},{"s":"b12","w":645,"v":0.048},{"s":"b12","w":657,"v":0.038},{"s":"b12","w":670,"v":0.031},{"s":"b12","w":685,"v":0.030},{"s":"b12","w":695,"v":0.048},{"s":"b12","w":705,"v":0.100},{"s":"b12","w":715,"v":0.154},{"s":"b12","w":725,"v":0.200},{"s":"b12","w":735,"v":0.242},{"s":"b12","w":745,"v":0.270},{"s":"b12","w":752,"v":0.288},{"s":"b12","w":758,"v":0.291},{"s":"b12","w":765,"v":0.286},{"s":"b12","w":775,"v":0.306},{"s":"b12","w":790,"v":0.297},{"s":"b12","w":800,"v":0.316},{"s":"b12","w":820,"v":0.322},{"s":"b12","w":848,"v":0.318},{"s":"b12","w":870,"v":0.325},{"s":"b12","w":900,"v":0.330},{"s":"b12","w":920,"v":0.332},{"s":"b12","w":932,"v":0.322},{"s":"b12","w":945,"v":0.292},{"s":"b12","w":960,"v":0.285},{"s":"b12","w":975,"v":0.295},{"s":"b12","w":990,"v":0.315},{"s":"b12","w":1000,"v":0.305},
{"s":"b5","w":420,"v":0.018},{"s":"b5","w":450,"v":0.021},{"s":"b5","w":480,"v":0.024},{"s":"b5","w":500,"v":0.026},{"s":"b5","w":515,"v":0.031},{"s":"b5","w":530,"v":0.042},{"s":"b5","w":545,"v":0.053},{"s":"b5","w":555,"v":0.058},{"s":"b5","w":565,"v":0.056},{"s":"b5","w":580,"v":0.051},{"s":"b5","w":592,"v":0.046},{"s":"b5","w":602,"v":0.048},{"s":"b5","w":612,"v":0.051},{"s":"b5","w":630,"v":0.050},{"s":"b5","w":645,"v":0.049},{"s":"b5","w":657,"v":0.040},{"s":"b5","w":670,"v":0.033},{"s":"b5","w":685,"v":0.032},{"s":"b5","w":695,"v":0.050},{"s":"b5","w":705,"v":0.101},{"s":"b5","w":715,"v":0.154},{"s":"b5","w":725,"v":0.200},{"s":"b5","w":735,"v":0.240},{"s":"b5","w":745,"v":0.268},{"s":"b5","w":752,"v":0.286},{"s":"b5","w":758,"v":0.289},{"s":"b5","w":765,"v":0.284},{"s":"b5","w":775,"v":0.304},{"s":"b5","w":790,"v":0.295},{"s":"b5","w":800,"v":0.314},{"s":"b5","w":820,"v":0.320},{"s":"b5","w":848,"v":0.316},{"s":"b5","w":870,"v":0.323},{"s":"b5","w":900,"v":0.328},{"s":"b5","w":920,"v":0.330},{"s":"b5","w":932,"v":0.318},{"s":"b5","w":945,"v":0.300},{"s":"b5","w":960,"v":0.295},{"s":"b5","w":975,"v":0.300},{"s":"b5","w":990,"v":0.318},{"s":"b5","w":1000,"v":0.310},
{"s":"b6","w":420,"v":0.017},{"s":"b6","w":450,"v":0.020},{"s":"b6","w":480,"v":0.022},{"s":"b6","w":500,"v":0.025},{"s":"b6","w":515,"v":0.030},{"s":"b6","w":530,"v":0.040},{"s":"b6","w":545,"v":0.050},{"s":"b6","w":555,"v":0.055},{"s":"b6","w":565,"v":0.053},{"s":"b6","w":580,"v":0.048},{"s":"b6","w":592,"v":0.043},{"s":"b6","w":602,"v":0.045},{"s":"b6","w":612,"v":0.048},{"s":"b6","w":630,"v":0.047},{"s":"b6","w":645,"v":0.046},{"s":"b6","w":657,"v":0.037},{"s":"b6","w":670,"v":0.030},{"s":"b6","w":685,"v":0.029},{"s":"b6","w":695,"v":0.047},{"s":"b6","w":705,"v":0.097},{"s":"b6","w":715,"v":0.150},{"s":"b6","w":725,"v":0.195},{"s":"b6","w":735,"v":0.236},{"s":"b6","w":745,"v":0.263},{"s":"b6","w":752,"v":0.281},{"s":"b6","w":758,"v":0.284},{"s":"b6","w":765,"v":0.279},{"s":"b6","w":775,"v":0.299},{"s":"b6","w":790,"v":0.290},{"s":"b6","w":800,"v":0.309},{"s":"b6","w":820,"v":0.315},{"s":"b6","w":848,"v":0.311},{"s":"b6","w":870,"v":0.318},{"s":"b6","w":900,"v":0.323},{"s":"b6","w":920,"v":0.325},{"s":"b6","w":932,"v":0.310},{"s":"b6","w":945,"v":0.280},{"s":"b6","w":960,"v":0.275},{"s":"b6","w":975,"v":0.285},{"s":"b6","w":990,"v":0.305},{"s":"b6","w":1000,"v":0.300},
{"s":"b14","w":420,"v":0.015},{"s":"b14","w":450,"v":0.018},{"s":"b14","w":480,"v":0.020},{"s":"b14","w":500,"v":0.022},{"s":"b14","w":515,"v":0.027},{"s":"b14","w":530,"v":0.036},{"s":"b14","w":545,"v":0.046},{"s":"b14","w":555,"v":0.050},{"s":"b14","w":565,"v":0.048},{"s":"b14","w":580,"v":0.043},{"s":"b14","w":592,"v":0.038},{"s":"b14","w":602,"v":0.040},{"s":"b14","w":612,"v":0.043},{"s":"b14","w":630,"v":0.042},{"s":"b14","w":645,"v":0.041},{"s":"b14","w":657,"v":0.032},{"s":"b14","w":670,"v":0.025},{"s":"b14","w":685,"v":0.024},{"s":"b14","w":695,"v":0.042},{"s":"b14","w":705,"v":0.093},{"s":"b14","w":715,"v":0.146},{"s":"b14","w":725,"v":0.192},{"s":"b14","w":735,"v":0.232},{"s":"b14","w":745,"v":0.260},{"s":"b14","w":752,"v":0.278},{"s":"b14","w":758,"v":0.281},{"s":"b14","w":765,"v":0.276},{"s":"b14","w":775,"v":0.296},{"s":"b14","w":790,"v":0.287},{"s":"b14","w":800,"v":0.306},{"s":"b14","w":820,"v":0.312},{"s":"b14","w":848,"v":0.308},{"s":"b14","w":870,"v":0.315},{"s":"b14","w":900,"v":0.320},{"s":"b14","w":920,"v":0.322},{"s":"b14","w":932,"v":0.305},{"s":"b14","w":945,"v":0.278},{"s":"b14","w":960,"v":0.270},{"s":"b14","w":975,"v":0.282},{"s":"b14","w":990,"v":0.300},{"s":"b14","w":1000,"v":0.295},
{"s":"b7","w":420,"v":0.016},{"s":"b7","w":450,"v":0.019},{"s":"b7","w":480,"v":0.021},{"s":"b7","w":500,"v":0.023},{"s":"b7","w":515,"v":0.028},{"s":"b7","w":530,"v":0.038},{"s":"b7","w":545,"v":0.048},{"s":"b7","w":555,"v":0.052},{"s":"b7","w":565,"v":0.050},{"s":"b7","w":580,"v":0.045},{"s":"b7","w":592,"v":0.040},{"s":"b7","w":602,"v":0.042},{"s":"b7","w":612,"v":0.045},{"s":"b7","w":630,"v":0.044},{"s":"b7","w":645,"v":0.043},{"s":"b7","w":657,"v":0.034},{"s":"b7","w":670,"v":0.027},{"s":"b7","w":685,"v":0.026},{"s":"b7","w":695,"v":0.043},{"s":"b7","w":705,"v":0.093},{"s":"b7","w":715,"v":0.145},{"s":"b7","w":725,"v":0.190},{"s":"b7","w":735,"v":0.229},{"s":"b7","w":745,"v":0.257},{"s":"b7","w":752,"v":0.274},{"s":"b7","w":758,"v":0.277},{"s":"b7","w":765,"v":0.272},{"s":"b7","w":775,"v":0.292},{"s":"b7","w":790,"v":0.283},{"s":"b7","w":800,"v":0.302},{"s":"b7","w":820,"v":0.308},{"s":"b7","w":848,"v":0.304},{"s":"b7","w":870,"v":0.311},{"s":"b7","w":900,"v":0.316},{"s":"b7","w":920,"v":0.318},{"s":"b7","w":932,"v":0.310},{"s":"b7","w":945,"v":0.285},{"s":"b7","w":960,"v":0.282},{"s":"b7","w":975,"v":0.292},{"s":"b7","w":990,"v":0.312},{"s":"b7","w":1000,"v":0.320},
{"s":"b8","w":420,"v":0.014},{"s":"b8","w":450,"v":0.017},{"s":"b8","w":480,"v":0.019},{"s":"b8","w":500,"v":0.021},{"s":"b8","w":515,"v":0.025},{"s":"b8","w":530,"v":0.034},{"s":"b8","w":545,"v":0.044},{"s":"b8","w":555,"v":0.048},{"s":"b8","w":565,"v":0.046},{"s":"b8","w":580,"v":0.041},{"s":"b8","w":592,"v":0.036},{"s":"b8","w":602,"v":0.038},{"s":"b8","w":612,"v":0.041},{"s":"b8","w":630,"v":0.040},{"s":"b8","w":645,"v":0.039},{"s":"b8","w":657,"v":0.030},{"s":"b8","w":670,"v":0.024},{"s":"b8","w":685,"v":0.023},{"s":"b8","w":695,"v":0.040},{"s":"b8","w":705,"v":0.089},{"s":"b8","w":715,"v":0.140},{"s":"b8","w":725,"v":0.183},{"s":"b8","w":735,"v":0.222},{"s":"b8","w":745,"v":0.249},{"s":"b8","w":752,"v":0.266},{"s":"b8","w":758,"v":0.269},{"s":"b8","w":765,"v":0.264},{"s":"b8","w":775,"v":0.284},{"s":"b8","w":790,"v":0.275},{"s":"b8","w":800,"v":0.294},{"s":"b8","w":820,"v":0.300},{"s":"b8","w":848,"v":0.296},{"s":"b8","w":870,"v":0.303},{"s":"b8","w":900,"v":0.308},{"s":"b8","w":920,"v":0.310},{"s":"b8","w":932,"v":0.300},{"s":"b8","w":945,"v":0.275},{"s":"b8","w":960,"v":0.272},{"s":"b8","w":975,"v":0.280},{"s":"b8","w":990,"v":0.298},{"s":"b8","w":1000,"v":0.290},
{"s":"b9","w":420,"v":0.012},{"s":"b9","w":450,"v":0.015},{"s":"b9","w":480,"v":0.016},{"s":"b9","w":500,"v":0.018},{"s":"b9","w":515,"v":0.022},{"s":"b9","w":530,"v":0.031},{"s":"b9","w":545,"v":0.039},{"s":"b9","w":555,"v":0.043},{"s":"b9","w":565,"v":0.041},{"s":"b9","w":580,"v":0.036},{"s":"b9","w":592,"v":0.031},{"s":"b9","w":602,"v":0.033},{"s":"b9","w":612,"v":0.036},{"s":"b9","w":630,"v":0.035},{"s":"b9","w":645,"v":0.034},{"s":"b9","w":657,"v":0.026},{"s":"b9","w":670,"v":0.021},{"s":"b9","w":685,"v":0.020},{"s":"b9","w":695,"v":0.036},{"s":"b9","w":705,"v":0.082},{"s":"b9","w":715,"v":0.131},{"s":"b9","w":725,"v":0.172},{"s":"b9","w":735,"v":0.209},{"s":"b9","w":745,"v":0.235},{"s":"b9","w":752,"v":0.251},{"s":"b9","w":758,"v":0.254},{"s":"b9","w":765,"v":0.249},{"s":"b9","w":775,"v":0.269},{"s":"b9","w":790,"v":0.260},{"s":"b9","w":800,"v":0.279},{"s":"b9","w":820,"v":0.285},{"s":"b9","w":848,"v":0.281},{"s":"b9","w":870,"v":0.288},{"s":"b9","w":900,"v":0.293},{"s":"b9","w":920,"v":0.295},{"s":"b9","w":932,"v":0.285},{"s":"b9","w":945,"v":0.270},{"s":"b9","w":960,"v":0.268},{"s":"b9","w":975,"v":0.275},{"s":"b9","w":990,"v":0.290},{"s":"b9","w":1000,"v":0.298},
{"s":"b10","w":420,"v":0.0105},{"s":"b10","w":450,"v":0.012},{"s":"b10","w":480,"v":0.014},{"s":"b10","w":500,"v":0.015},{"s":"b10","w":515,"v":0.018},{"s":"b10","w":530,"v":0.025},{"s":"b10","w":545,"v":0.031},{"s":"b10","w":555,"v":0.034},{"s":"b10","w":565,"v":0.032},{"s":"b10","w":580,"v":0.027},{"s":"b10","w":592,"v":0.022},{"s":"b10","w":602,"v":0.024},{"s":"b10","w":612,"v":0.025},{"s":"b10","w":630,"v":0.024},{"s":"b10","w":645,"v":0.023},{"s":"b10","w":657,"v":0.021},{"s":"b10","w":670,"v":0.019},{"s":"b10","w":685,"v":0.018},{"s":"b10","w":695,"v":0.033},{"s":"b10","w":705,"v":0.077},{"s":"b10","w":715,"v":0.124},{"s":"b10","w":725,"v":0.163},{"s":"b10","w":735,"v":0.208},{"s":"b10","w":745,"v":0.230},{"s":"b10","w":752,"v":0.240},{"s":"b10","w":758,"v":0.243},{"s":"b10","w":765,"v":0.238},{"s":"b10","w":775,"v":0.258},{"s":"b10","w":790,"v":0.250},{"s":"b10","w":800,"v":0.266},{"s":"b10","w":820,"v":0.272},{"s":"b10","w":848,"v":0.270},{"s":"b10","w":870,"v":0.277},{"s":"b10","w":900,"v":0.284},{"s":"b10","w":920,"v":0.283},{"s":"b10","w":932,"v":0.270},{"s":"b10","w":945,"v":0.253},{"s":"b10","w":960,"v":0.258},{"s":"b10","w":975,"v":0.266},{"s":"b10","w":990,"v":0.275},{"s":"b10","w":1000,"v":0.280}
]
},
"layer":[
{"data":{"name":"red"},
 "mark":{"type":"line","color":"#ff0000","strokeWidth":1.8,"interpolate":"monotone"},
 "encoding":{
  "x":{"field":"w","type":"quantitative","scale":{"domain":[400,1000],"nice":false,"zero":false},"axis":{"orient":"bottom","values":[400,500,600,700,800,900,1000],"format":"d","labelPadding":19,"title":"Wavelength (nm)","titlePadding":8}},
  "y":{"field":"v","type":"quantitative","scale":{"domain":[0,0.45],"nice":false,"zero":false},"axis":{"orient":"left","values":[0,0.05,0.1,0.15,0.2,0.25,0.3,0.35,0.4,0.45],"format":"~g","labelPadding":15,"title":"Reflectance","titlePadding":5}},
  "detail":{"field":"s","type":"nominal"}
 }},
{"data":{"name":"blue"},
 "mark":{"type":"line","color":"#0000ff","strokeWidth":1.8,"interpolate":"monotone"},
 "encoding":{
  "x":{"field":"w","type":"quantitative","scale":{"domain":[400,1000],"nice":false,"zero":false},"axis":{"orient":"top","values":[400,500,600,700,800,900,1000],"labels":false,"title":null}},
  "y":{"field":"v","type":"quantitative","scale":{"domain":[0,0.45],"nice":false,"zero":false},"axis":{"orient":"right","values":[0,0.05,0.1,0.15,0.2,0.25,0.3,0.35,0.4,0.45],"labels":false,"title":null}},
  "detail":{"field":"s","type":"nominal"}
 }}
]
}
